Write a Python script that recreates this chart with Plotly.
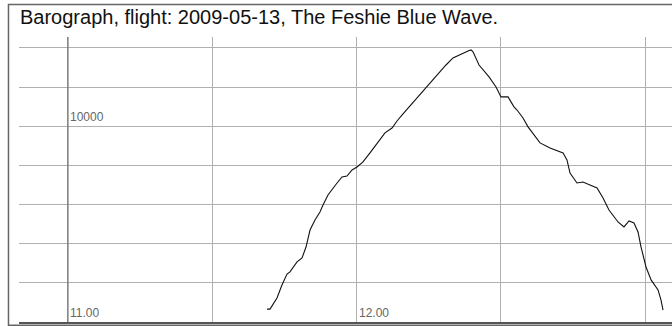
import plotly.graph_objects as go

# Barograph trace: time of day and pressure altitude (ft)
times = [
    "2009-05-13 11:41:22", "2009-05-13 11:42:00", "2009-05-13 11:43:27", "2009-05-13 11:44:29",
    "2009-05-13 11:45:32", "2009-05-13 11:46:09", "2009-05-13 11:47:37", "2009-05-13 11:48:39",
    "2009-05-13 11:49:29", "2009-05-13 11:50:19", "2009-05-13 11:51:21", "2009-05-13 11:52:23",
    "2009-05-13 11:53:01", "2009-05-13 11:54:03", "2009-05-13 11:55:56", "2009-05-13 11:56:58",
    "2009-05-13 11:58:00", "2009-05-13 11:59:03", "2009-05-13 12:00:05", "2009-05-13 12:01:20",
    "2009-05-13 12:02:47", "2009-05-13 12:04:27", "2009-05-13 12:05:54", "2009-05-13 12:07:22",
    "2009-05-13 12:08:24", "2009-05-13 12:09:39", "2009-05-13 12:11:06", "2009-05-13 12:12:33",
    "2009-05-13 12:14:26", "2009-05-13 12:16:30", "2009-05-13 12:18:35", "2009-05-13 12:20:02",
    "2009-05-13 12:22:07", "2009-05-13 12:23:10", "2009-05-13 12:23:47", "2009-05-13 12:24:12",
    "2009-05-13 12:25:27", "2009-05-13 12:27:32", "2009-05-13 12:28:59", "2009-05-13 12:30:01",
    "2009-05-13 12:31:29", "2009-05-13 12:32:43", "2009-05-13 12:33:21", "2009-05-13 12:34:36",
    "2009-05-13 12:35:38", "2009-05-13 12:38:08", "2009-05-13 12:40:13", "2009-05-13 12:42:55",
    "2009-05-13 12:43:44", "2009-05-13 12:44:22", "2009-05-13 12:45:49", "2009-05-13 12:47:04",
    "2009-05-13 12:48:31", "2009-05-13 12:49:59", "2009-05-13 12:51:14", "2009-05-13 12:52:28",
    "2009-05-13 12:54:21", "2009-05-13 12:55:35", "2009-05-13 12:56:38", "2009-05-13 12:57:40",
    "2009-05-13 12:58:30", "2009-05-13 12:59:08", "2009-05-13 13:00:10", "2009-05-13 13:01:13",
    "2009-05-13 13:02:40", "2009-05-13 13:03:17", "2009-05-13 13:03:42",
]
altitudes = [
    660, 660, 1230, 1890,
    2450, 2560, 3070, 3270,
    3830, 4700, 5210, 5620,
    5980, 6490, 7100, 7410,
    7460, 7770, 7920, 8180,
    8640, 9200, 9660, 9910,
    10270, 10630, 11040, 11400,
    11960, 12520, 13130, 13490,
    13750, 13850, 13900, 13800,
    13130, 12520, 12010, 11500,
    11500, 10990, 10830, 10420,
    9970, 9150, 8890, 8640,
    8280, 7610, 7100, 7150,
    7000, 6850, 6340, 5720,
    5110, 4860, 5160, 5060,
    4600, 3830, 2810, 2150,
    1640, 1120, 610,
]

title_text = "Barograph, flight: 2009-05-13, The Feshie Blue Wave."
x_range = ["2009-05-13 10:49:49", "2009-05-13 13:05:34"]
y_range = [0, 14560]
x_label_times = ["2009-05-13 11:00:00", "2009-05-13 12:00:00"]
x_label_texts = ["11.00", "12.00"]
y_label_values = [10000]
y_label_texts = ["10000"]
grid_start = "2009-05-13 11:00:00"

fig = go.Figure()
fig.add_trace(go.Scatter(
    x=times, y=altitudes, mode="lines",
    line=dict(color="#111111", width=1.1),
    showlegend=False, hoverinfo="skip",
))

fig.update_layout(
    width=672, height=326,
    margin=dict(l=19, r=0, t=37, b=4),
    paper_bgcolor="white", plot_bgcolor="white",
    font=dict(family="Liberation Sans, Arial, sans-serif"),
    showlegend=False,
    xaxis=dict(
        type="date", range=x_range,
        tick0=grid_start, dtick=30 * 60 * 1000,
        showgrid=True, gridcolor="#b0b0b0", gridwidth=1,
        showticklabels=False, ticks="", zeroline=False,
        showline=True, linecolor="#555555", linewidth=1.5,
    ),
    yaxis=dict(
        range=y_range, dtick=2000, tick0=0,
        showgrid=True, gridcolor="#b0b0b0", gridwidth=1,
        showticklabels=False, ticks="", zeroline=False,
        showline=False,
    ),
)

# Darker vertical line at 11.00
fig.add_shape(type="line", xref="x", yref="paper",
              x0=grid_start, x1=grid_start, y0=0, y1=1,
              line=dict(color="#606060", width=1))

# Outer frame
fig.add_shape(type="rect", xref="paper", yref="paper",
              x0=-0.0161, x1=1.05, y0=-0.011, y1=1.114,
              line=dict(color="#666666", width=1.5), layer="above")

# Title
fig.add_annotation(text=title_text, xref="paper", yref="paper",
                   x=-0.0015, y=1.07, xanchor="left", yanchor="middle",
                   showarrow=False,
                   font=dict(size=20, color="#111111",
                             family="Liberation Sans, Arial, sans-serif"))

for t, lab in zip(x_label_times, x_label_texts):
    fig.add_annotation(text=lab, x=t, y=y_range[0], xref="x", yref="y",
                       xanchor="left", yanchor="bottom", showarrow=False,
                       xshift=0, yshift=0,
                       font=dict(size=12, color="#666666"))

for v, lab in zip(y_label_values, y_label_texts):
    fig.add_annotation(text=lab, x=grid_start, y=v, xref="x", yref="y",
                       xanchor="left", yanchor="bottom", showarrow=False,
                       xshift=0, yshift=0,
                       font=dict(size=12, color="#666666"))

fig.write_html(
    "out.html",
    config={"displayModeBar": False},
    post_script="document.body.style.margin='0';document.body.style.padding='0';",
)
